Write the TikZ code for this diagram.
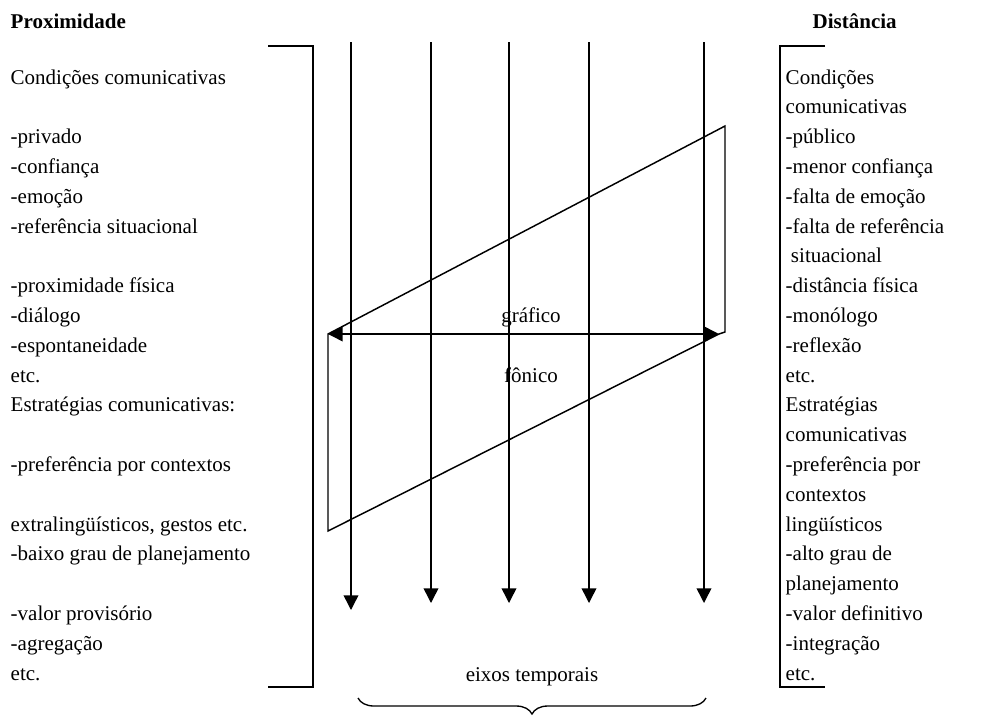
\documentclass[tikz,border=0pt]{standalone}
\usepackage{fontspec}
\setmainfont{Liberation Serif}
\usetikzlibrary{arrows.meta,decorations.pathreplacing}
\begin{document}
\begin{tikzpicture}[x=0.75pt,y=-0.75pt,line width=1.1pt,
  txt/.style={anchor=base west,inner sep=0pt,font=\fontsize{15.75}{18}\selectfont},
  head/.style={anchor=base west,inner sep=0pt,font=\fontsize{15.75}{18}\selectfont\bfseries},
  lbl/.style={anchor=base,inner sep=0pt,font=\fontsize{15.75}{18}\selectfont},
  axisarrow/.style={-{Triangle[length=11pt,width=11pt]}},
  biarrow/.style={{Triangle[length=11pt,width=11pt]}-{Triangle[length=11pt,width=11pt]}},
  frameline/.style={line width=1.1pt}]
\useasboundingbox (0,0) rectangle (1003,715);
% headings
\node[head] (prox) at (10,28) {Proximidade};
\node[head] (dist) at (812,28) {Distância};
% left column
\foreach \k/\t [count=\i] in {1/{Condições comunicativas},3/{-privado},4/{-confiança},5/{-emoção},6/{-referência situacional},8/{-proximidade física},9/{-diálogo},10/{-espontaneidade},11/{etc.},12/{Estratégias comunicativas:},14/{-preferência por contextos},16/{extralingüísticos, gestos etc.},17/{-baixo grau de planejamento},19/{-valor provisório},20/{-agregação},21/{etc.}}
  \node[txt] (L\i) at (10,{84+(\k-1)*29.8}) {\t};
% right column
\foreach \k/\t [count=\i] in {1/{Condições},2/{comunicativas},3/{-público},4/{-menor confiança},5/{-falta de emoção},6/{-falta de referência},7/{\ situacional},8/{-distância física},9/{-monólogo},10/{-reflexão},11/{etc.},12/{Estratégias},13/{comunicativas},14/{-preferência por},15/{contextos},16/{lingüísticos},17/{-alto grau de},18/{planejamento},19/{-valor definitivo},20/{-integração},21/{etc.}}
  \node[txt] (R\i) at (785,{84+(\k-1)*29.8}) {\t};
% brackets
\coordinate (lbA) at (268,46); \coordinate (lbB) at (313,46);
\coordinate (lbC) at (313,687); \coordinate (lbD) at (268,687);
\draw[frameline] (lbA) -- (lbB) -- (lbC) -- (lbD);
\coordinate (rbA) at (825,46); \coordinate (rbB) at (780,46);
\coordinate (rbC) at (780,687); \coordinate (rbD) at (825,687);
\draw[frameline] (rbA) -- (rbB) -- (rbC) -- (rbD);
% time axes
\foreach \x/\e [count=\i] in {351/610,431/603,509/603,589/603,704/603}{
  \coordinate (at\i) at (\x,42);
  \coordinate (ab\i) at (\x,\e);
  \draw[axisarrow] (at\i) -- (ab\i);
}
% parallelogram
\coordinate (pTL) at (328,334);
\coordinate (pBL) at (328,531);
\coordinate (pTR) at (725,126);
\coordinate (pRB) at (725,332);
\coordinate (pTip) at (719,334);
\draw[frameline] (pTip) -- (pRB) -- (pTR) -- (pTL) -- (pBL) -- (pTip);
\draw[biarrow] (pTL) -- (pTip);
\node[lbl] (graf) at (531,322) {gráfico};
\node[lbl] (fon) at (531,382) {fônico};
% brace
\coordinate (brL) at (358,698);
\coordinate (brR) at (706,698);
\draw[line width=1pt,decorate,decoration={brace,amplitude=12pt,mirror}] (brL) -- (brR);
\node[lbl] (eixos) at (532,681) {eixos temporais};
\end{tikzpicture}
\end{document}
